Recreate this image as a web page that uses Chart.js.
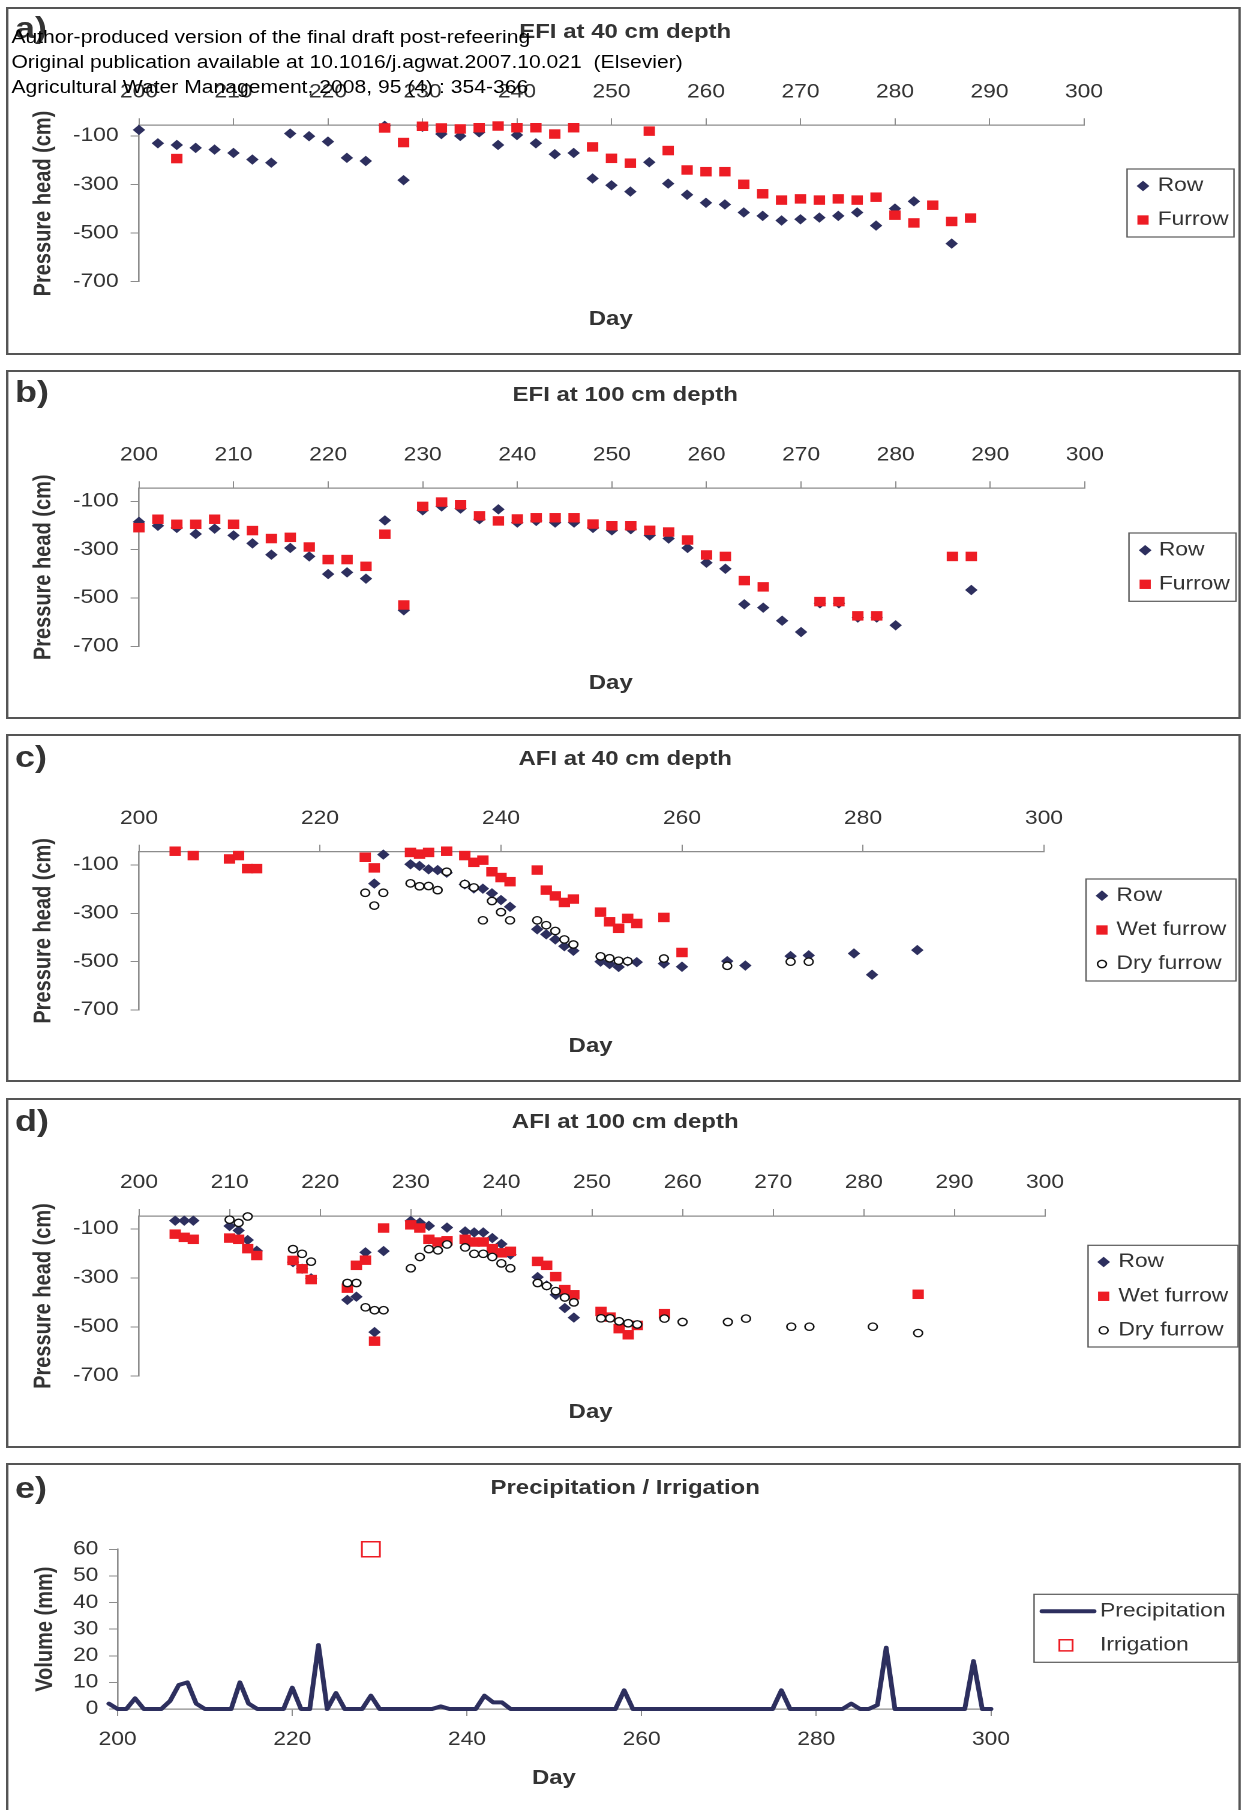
<!DOCTYPE html>
<html>
<head>
<meta charset="utf-8">
<script src="https://cdn.jsdelivr.net/npm/chart.js@4.4.1/dist/chart.umd.min.js"></script>
<style>
  html, body { margin: 0; padding: 0; background: #fff; overflow: hidden; }
  /* the whole figure is laid out narrow and stretched sideways */
  #page { position: relative; width: 1037.5px; height: 1810px; transform: scaleX(1.2); transform-origin: 0 0;
          font-family: "Liberation Sans", Arial, Helvetica, sans-serif; color: #333; }
  .panel { position: absolute; left: 5.4px; width: 1028.6px; border: 2px solid #555; box-sizing: border-box; }
  canvas { position: absolute; left: 0; }
  .lbl { position: absolute; white-space: nowrap; }
  .center { transform: translate(-50%, -50%); }
  .left { transform: translateY(-50%); }
  .letter { font-weight: bold; font-size: 30px; }
  .title { font-weight: bold; font-size: 20px; }
  .day { font-weight: bold; font-size: 20px; }
  .note { font-size: 17.6px; color: #000; white-space: pre; z-index: 5; }
</style>
</head>
<body>
<div id="page"></div>
<script>
const NAVY = '#2D2F5E';
const RED = '#ED1C24';
const AXIS = '#8C8C8C';
const TEXT = '#333333';
const FONT = '"Liberation Sans", Arial, Helvetica, sans-serif';

// tick labels
const dayTicks10 = [200, 210, 220, 230, 240, 250, 260, 270, 280, 290, 300];
const dayTicks20 = [200, 220, 240, 260, 280, 300];
const headTicks = [-700, -500, -300, -100];
const volumeTicks = [0, 10, 20, 30, 40, 50, 60];

// a) EFI at 40 cm
const efi40RowDay = [200,202,204,206,208,210,212,214,216,218,220,222,224,226,228,230,232,234,236,238,240,242,244,246,248,250,252,254,256,258,260,262,264,266,268,270,272,274,276,278,280,282,286];
const efi40RowHead = [-75,-130,-137,-149,-156,-170,-197,-210,-90,-101,-123,-190,-203,-58,-282,-62,-92,-100,-85,-137,-96,-130,-175,-170,-275,-303,-329,-208,-296,-342,-375,-382,-415,-429,-448,-443,-436,-429,-415,-469,-399,-369,-543];
const efi40FurrowDay = [204,226,228,230,232,234,236,238,240,242,244,246,248,250,252,254,256,258,260,262,264,266,268,270,272,274,276,278,280,282,284,286,288];
const efi40FurrowHead = [-193,-67,-127,-60,-67,-71,-66,-59,-66,-66,-92,-66,-145,-192,-212,-80,-160,-240,-247,-247,-299,-338,-364,-359,-364,-359,-364,-352,-426,-458,-385,-452,-438];

// b) EFI at 100 cm
const efi100RowDay = [200,202,204,206,208,210,212,214,216,218,220,222,224,226,228,230,232,234,236,238,240,242,244,246,248,250,252,254,256,258,260,262,264,266,268,270,272,274,276,278,280,288];
const efi100RowHead = [-185,-201,-210,-235,-213,-241,-274,-321,-293,-328,-401,-394,-420,-179,-551,-137,-121,-130,-174,-133,-188,-181,-188,-188,-210,-220,-215,-241,-254,-293,-354,-379,-526,-540,-594,-641,-522,-522,-581,-581,-613,-467];
const efi100FurrowDay = [200,202,204,206,208,210,212,214,216,218,220,222,224,226,228,230,232,234,236,238,240,242,244,246,248,250,252,254,256,258,260,262,264,266,272,274,276,278,286,288];
const efi100FurrowHead = [-209,-174,-195,-195,-174,-195,-221,-254,-249,-289,-341,-341,-369,-236,-529,-121,-103,-114,-160,-181,-173,-168,-168,-168,-194,-201,-201,-220,-227,-260,-322,-328,-428,-454,-515,-515,-574,-574,-328,-328];

// c) AFI at 40 cm
const afi40RowDay = [226,227,230,231,232,233,234,236,237,238,239,240,241,244,245,246,247,248,251,252,253,254,255,258,260,265,267,272,274,279,281,286];
const afi40RowHead = [-177,-57,-97,-104,-118,-121,-132,-180,-197,-198,-217,-245,-273,-366,-387,-408,-436,-455,-500,-510,-522,-499,-502,-508,-521,-498,-516,-477,-474,-466,-554,-452];
const afi40WetDay = [204,206,210,211,212,213,225,226,230,231,232,234,236,237,238,239,240,241,244,245,246,247,248,251,252,253,254,255,258,260];
const afi40WetHead = [-43,-61,-75,-61,-115,-115,-68,-112,-48,-55,-48,-43,-61,-89,-80,-128,-152,-169,-121,-204,-228,-255,-241,-295,-335,-362,-321,-342,-317,-462];
const afi40DryDay = [225,226,227,230,231,232,233,234,236,237,238,239,240,241,244,245,246,247,248,251,252,253,254,258,265,272,274];
const afi40DryHead = [-215,-268,-215,-176,-188,-187,-204,-128,-179,-193,-329,-249,-295,-329,-329,-349,-373,-408,-429,-478,-486,-496,-498,-487,-517,-500,-500];

// d) AFI at 100 cm
const afi100RowDay = [204,205,206,210,211,212,213,217,218,219,223,224,225,226,227,230,231,232,234,236,237,238,239,240,241,244,245,246,247,248];
const afi100RowHead = [-67,-67,-67,-89,-107,-146,-190,-236,-263,-302,-390,-377,-196,-521,-191,-68,-75,-88,-95,-111,-115,-115,-138,-162,-205,-297,-331,-369,-423,-462];
const afi100WetDay = [204,205,206,210,211,212,213,217,218,219,223,224,225,226,227,230,231,232,233,234,236,237,238,239,240,241,244,245,246,247,248,251,252,253,254,255,258,286];
const afi100WetHead = [-122,-135,-143,-138,-143,-181,-209,-229,-263,-307,-342,-249,-228,-558,-97,-84,-97,-143,-154,-149,-143,-154,-154,-181,-198,-192,-233,-249,-295,-348,-369,-437,-460,-507,-532,-494,-446,-367];
const afi100DryDay = [210,211,212,217,218,219,223,224,225,226,227,230,231,232,233,234,236,237,238,239,240,241,244,245,246,247,248,251,252,253,254,255,258,260,265,267,272,274,281,286];
const afi100DryHead = [-63,-76,-50,-183,-202,-234,-321,-321,-420,-432,-432,-261,-215,-183,-188,-164,-176,-202,-202,-215,-241,-261,-321,-333,-354,-380,-400,-465,-465,-477,-485,-490,-466,-480,-480,-466,-499,-499,-499,-525];

// e) daily precipitation and irrigation (mm)
const precipDay = [199,
  200,201,202,203,204,205,206,207,208,209,
  210,211,212,213,214,215,216,217,218,219,
  220,221,222,223,224,225,226,227,228,229,
  230,231,232,233,234,235,236,237,238,239,
  240,241,242,243,244,245,246,247,248,249,
  250,251,252,253,254,255,256,257,258,259,
  260,261,262,263,264,265,266,267,268,269,
  270,271,272,273,274,275,276,277,278,279,
  280,281,282,283,284,285,286,287,288,289,
  290,291,292,293,294,295,296,297,298,299,
  300];
const precipMm = [2,
  0,0,4,0,0,0,3,9,10,2,
  0,0,0,0,10,2,0,0,0,0,
  8,0,0,24,0,6,0,0,0,5,
  0,0,0,0,0,0,0,1,0,0,
  0,0,5,2.5,2.5,0,0,0,0,0,
  0,0,0,0,0,0,0,0,7,0,
  0,0,0,0,0,0,0,0,0,0,
  0,0,0,0,0,0,7,0,0,0,
  0,0,0,0,2,0,0,1.5,23,0,
  0,0,0,0,0,0,0,0,18,0,
  0];
const irrigDay = [229];
const irrigMm = [60];

const ROW_LOOK = { pointStyle: 'rectRot', pointRadius: 5.2, pointBackgroundColor: NAVY, pointBorderColor: NAVY, pointBorderWidth: 0, order: 3 };
const WET_LOOK = { pointStyle: 'rect', pointRadius: 6.7, pointBackgroundColor: RED, pointBorderColor: RED, pointBorderWidth: 0, order: 2 };
const DRY_LOOK = { pointStyle: 'circle', pointRadius: 3.7, pointBackgroundColor: '#fff', pointBorderColor: '#111', pointBorderWidth: 1.3, order: 1 };

function marks(label, days, values, look) {
  return Object.assign({ label, data: days.map((d, i) => ({ x: d, y: values[i] })), clip: false, pointHoverRadius: 0 }, look);
}

// framed legend box drawn inside each panel's canvas
const boxLegend = {
  id: 'boxLegend',
  afterDatasetsDraw(chart, args, o) {
    const ctx = chart.ctx;
    const dy = o.canvasTop;
    ctx.save();
    ctx.fillStyle = '#fff';
    ctx.fillRect(o.x, o.y - dy, o.w, o.h);
    ctx.lineWidth = 1.2;
    ctx.strokeStyle = '#5a5a5a';
    ctx.strokeRect(o.x, o.y - dy, o.w, o.h);
    ctx.font = '19px ' + FONT;
    ctx.textBaseline = 'middle';
    chart.data.datasets.forEach((ds, i) => {
      const cy = o.rows[i] - dy;
      drawKey(ctx, ds, o, i, cy);
      ctx.fillStyle = TEXT;
      ctx.fillText(ds.label, o.textX, cy);
    });
    ctx.restore();
  }
};

function drawKey(ctx, ds, o, i, cy) {
  ctx.save();
  if (ds.showLine) {
    ctx.strokeStyle = ds.borderColor;
    ctx.lineWidth = ds.borderWidth;
    ctx.lineCap = 'round';
    ctx.beginPath();
    ctx.moveTo(o.lineFrom, cy);
    ctx.lineTo(o.lineTo, cy);
    ctx.stroke();
    ctx.restore();
    return;
  }
  const r = o.radii[i], x = o.symX;
  ctx.beginPath();
  if (ds.pointStyle === 'rectRot') {
    ctx.moveTo(x, cy - r); ctx.lineTo(x + r, cy); ctx.lineTo(x, cy + r); ctx.lineTo(x - r, cy); ctx.closePath();
  } else if (ds.pointStyle === 'rect') {
    const s = r * Math.SQRT1_2;
    ctx.rect(x - s, cy - s, 2 * s, 2 * s);
  } else {
    ctx.arc(x, cy, r, 0, Math.PI * 2);
  }
  ctx.fillStyle = ds.pointBackgroundColor;
  ctx.fill();
  if (ds.pointBorderWidth) {
    ctx.lineWidth = ds.pointBorderWidth;
    ctx.strokeStyle = ds.pointBorderColor;
    ctx.stroke();
  }
  ctx.restore();
}

const panels = [
  { letter: 'a)', title: 'EFI at 40 cm depth', top: 7, height: 348, letterY: 28, titleY: 30.7, dayX: 509, dayY: 318.3,
    chartLeft: 115.8, chartRight: 903.3, chartTop: 125.3, chartBottom: 281.7, yMin: -700, yMax: -56,
    xTicks: dayTicks10, yTicks: headTicks, yTitle: 'Pressure head (cm)', xPos: 'top', padLeft: 24.7, yPad: 10,
    datasets: [marks('Row', efi40RowDay, efi40RowHead, ROW_LOOK), marks('Furrow', efi40FurrowDay, efi40FurrowHead, WET_LOOK)],
    legend: { x: 939.2, y: 169, w: 89.1, h: 68, rows: [186, 220], radii: [5.3, 6.6], symX: 952.5, textX: 964.7 } },
  { letter: 'b)', title: 'EFI at 100 cm depth', top: 369.7, height: 349.3, letterY: 391.7, titleY: 394.3, dayX: 509, dayY: 682.3,
    chartLeft: 115.8, chartRight: 904, chartTop: 488, chartBottom: 646, yMin: -700, yMax: -46,
    xTicks: dayTicks10, yTicks: headTicks, yTitle: 'Pressure head (cm)', xPos: 'top', padLeft: 24.7, yPad: 10,
    datasets: [marks('Row', efi100RowDay, efi100RowHead, ROW_LOOK), marks('Furrow', efi100FurrowDay, efi100FurrowHead, WET_LOOK)],
    legend: { x: 940.8, y: 532.7, w: 89.2, h: 68.3, rows: [550, 584], radii: [5.3, 6.6], symX: 954.3, textX: 965.7 } },
  { letter: 'c)', title: 'AFI at 40 cm depth', top: 734, height: 348, letterY: 756.7, titleY: 758.3, dayX: 492.2, dayY: 1045,
    chartLeft: 115.8, chartRight: 870, chartTop: 851.7, chartBottom: 1010, yMin: -700, yMax: -45,
    xTicks: dayTicks20, yTicks: headTicks, yTitle: 'Pressure head (cm)', xPos: 'top', padLeft: 24.7, yPad: 10,
    datasets: [marks('Row', afi40RowDay, afi40RowHead, ROW_LOOK), marks('Wet furrow', afi40WetDay, afi40WetHead, WET_LOOK),
               marks('Dry furrow', afi40DryDay, afi40DryHead, DRY_LOOK)],
    legend: { x: 905, y: 879, w: 125, h: 102, rows: [895.7, 930, 964], radii: [5.3, 6.6, 3.7], symX: 918.3, textX: 930.4 } },
  { letter: 'd)', title: 'AFI at 100 cm depth', top: 1097.7, height: 350.3, letterY: 1121, titleY: 1121, dayX: 492.2, dayY: 1411,
    chartLeft: 115.8, chartRight: 870.8, chartTop: 1215.7, chartBottom: 1375.7, yMin: -700, yMax: -48,
    xTicks: dayTicks10, yTicks: headTicks, yTitle: 'Pressure head (cm)', xPos: 'top', padLeft: 24.7, yPad: 10,
    datasets: [marks('Row', afi100RowDay, afi100RowHead, ROW_LOOK), marks('Wet furrow', afi100WetDay, afi100WetHead, WET_LOOK),
               marks('Dry furrow', afi100DryDay, afi100DryHead, DRY_LOOK)],
    legend: { x: 906.7, y: 1245, w: 125, h: 101.7, rows: [1261.7, 1296, 1330], radii: [5.3, 6.6, 3.7], symX: 919.7, textX: 932 } },
  { letter: 'e)', title: 'Precipitation / Irrigation', top: 1462.7, height: 357, letterY: 1488, titleY: 1487.3, dayX: 461.6, dayY: 1776.7,
    chartLeft: 98, chartRight: 825.8, chartTop: 1549, chartBottom: 1708.7, yMin: 0, yMax: 60,
    xTicks: dayTicks20, yTicks: volumeTicks, yTitle: 'Volume (mm)', xPos: 'bottom', padLeft: 26, yPad: 9,
    datasets: [
      Object.assign(marks('Precipitation', precipDay, precipMm, {}), { showLine: true, borderColor: NAVY, borderWidth: 4,
        pointRadius: 0, tension: 0, borderJoinStyle: 'round', borderCapStyle: 'round', order: 2 }),
      marks('Irrigation', irrigDay, irrigMm, { pointStyle: 'rect', pointRadius: 10.6, pointBackgroundColor: 'rgba(255,255,255,0)',
        pointBorderColor: RED, pointBorderWidth: 1.5, order: 1 })
    ],
    legend: { x: 861.7, y: 1594, w: 170, h: 68, rows: [1611, 1645], radii: [0, 7.8], symX: 888.3, textX: 916.7, lineFrom: 868.3, lineTo: 911.7 } }
];

const page = document.getElementById('page');
const PAGE_W = 1038;
const X_AXIS_H = 60;

function addLabel(cls, text, x, y) {
  const el = document.createElement('div');
  el.className = 'lbl ' + cls;
  el.textContent = text;
  el.style.left = x + 'px';
  el.style.top = y + 'px';
  page.appendChild(el);
}

panels.forEach(p => {
  const box = document.createElement('div');
  box.className = 'panel';
  box.style.top = p.top + 'px';
  box.style.height = p.height + 'px';
  page.appendChild(box);

  const canvas = document.createElement('canvas');
  canvas.width = PAGE_W;
  canvas.height = Math.round(p.height);
  canvas.style.top = p.top + 'px';
  canvas.style.width = PAGE_W + 'px';
  canvas.style.height = Math.round(p.height) + 'px';
  page.appendChild(canvas);

  const h = Math.round(p.height);
  const onTop = p.xPos === 'top';
  const padTop = onTop ? p.chartTop - p.top - X_AXIS_H : p.chartTop - p.top;
  const padBottom = onTop ? p.top + h - p.chartBottom : p.top + h - p.chartBottom - X_AXIS_H;

  new Chart(canvas, {
    type: 'scatter',
    data: { datasets: p.datasets },
    options: {
      responsive: false,
      animation: false,
      devicePixelRatio: 2,
      events: [],
      layout: { autoPadding: false, padding: { left: p.padLeft, right: PAGE_W - p.chartRight, top: padTop, bottom: padBottom } },
      plugins: {
        legend: { display: false },
        tooltip: { enabled: false },
        boxLegend: Object.assign({ canvasTop: p.top }, p.legend)
      },
      scales: {
        x: {
          type: 'linear', position: p.xPos, min: 200, max: 300,
          afterFit: s => { s.height = X_AXIS_H; },
          afterBuildTicks: s => { s.ticks = p.xTicks.map(v => ({ value: v })); },
          grid: { drawOnChartArea: false, drawTicks: true, tickLength: 7, color: AXIS },
          border: { color: AXIS, width: 1.3 },
          ticks: { color: TEXT, font: { family: FONT, size: 19 }, padding: onTop ? 14.6 : 12.2,
                   maxRotation: 0, autoSkip: false, callback: v => String(v) }
        },
        y: {
          type: 'linear', min: p.yMin, max: p.yMax,
          afterFit: s => { s.width = p.chartLeft - p.padLeft; },
          afterBuildTicks: s => { s.ticks = p.yTicks.map(v => ({ value: v })); },
          grid: { drawOnChartArea: false, drawTicks: true, tickLength: 7, color: AXIS },
          border: { color: AXIS, width: 1.3 },
          ticks: { color: TEXT, font: { family: FONT, size: 19 }, padding: p.yPad, autoSkip: false, callback: v => String(v) },
          title: { display: true, text: p.yTitle, color: TEXT, font: { family: FONT, size: 20, weight: 'bold' }, padding: 0 }
        }
      }
    },
    plugins: [boxLegend]
  });

  addLabel('letter left', p.letter, 12.5, p.letterY);
  addLabel('title center', p.title, 521, p.titleY);
  addLabel('day center', 'Day', p.dayX, p.dayY);
});

// notice printed across the top of the first panel
addLabel('note left', 'Author-produced version of the final draft post-refeering', 9.5, 36.7);
addLabel('note left', 'Original publication available at 10.1016/j.agwat.2007.10.021  (Elsevier)', 9.5, 62.3);
addLabel('note left', 'Agricultural Water Management, 2008, 95 (4) : 354-366', 9.5, 86.7);
</script>
</body>
</html>
